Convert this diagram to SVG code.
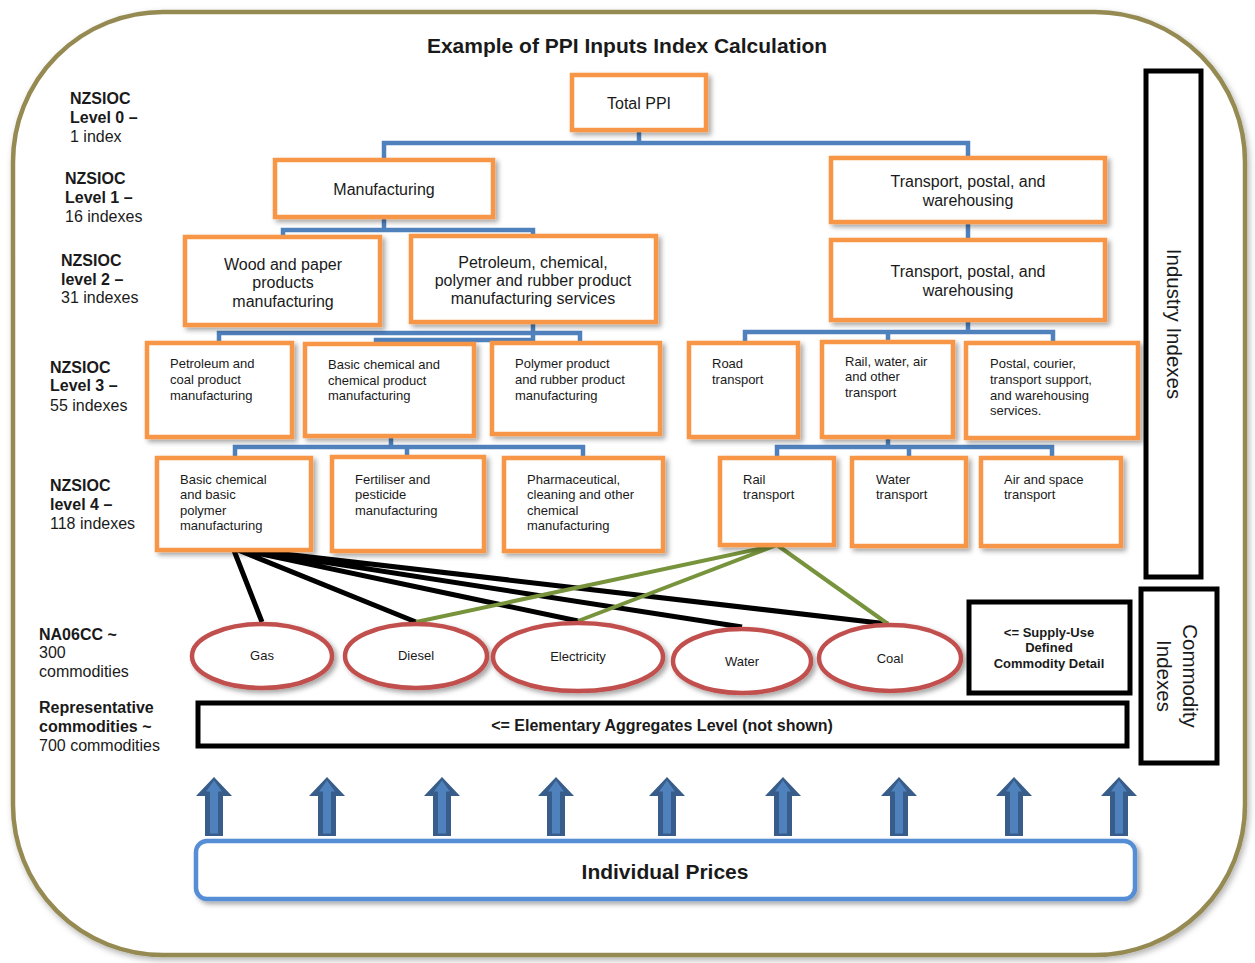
<svg xmlns="http://www.w3.org/2000/svg" width="1255" height="963" viewBox="0 0 1255 963">
<defs>
<filter id="sh" x="-10%" y="-10%" width="130%" height="130%">
<feDropShadow dx="3" dy="3" stdDeviation="2.5" flood-color="#000" flood-opacity="0.35"/>
</filter>
<filter id="shb" x="-5%" y="-5%" width="110%" height="110%">
<feDropShadow dx="2" dy="3" stdDeviation="3" flood-color="#000" flood-opacity="0.3"/>
</filter>
<symbol id="arrow" overflow="visible">
<path d="M0,-59 L18,-40 L9,-40 L9,0 L-9,0 L-9,-40 L-18,-40 Z" fill="#385d8a"/>
<path d="M0,-53 L5,-46 L2.5,-46 L2.5,-4 L-2.5,-4 L-2.5,-46 L-5,-46 Z" fill="#4f81bd" stroke="#4f81bd" stroke-width="3"/>
</symbol>
</defs>
<style>
text{font-family:"Liberation Sans",Arial,sans-serif;fill:#1a1a1a}
.b{font-weight:bold}
.lab{font-size:16px}
.box{fill:#fff;stroke:#f79646;stroke-width:4.5}
.bt{font-size:16px;text-anchor:middle}
.st{font-size:13px}
.conn{fill:none;stroke:#4f81bd;stroke-width:4.5;stroke-linejoin:miter}
.blk{stroke:#000;stroke-width:5;fill:none}
.grn{stroke:#77933c;stroke-width:4;fill:none}
.ell{fill:#fff;stroke:#c0504d;stroke-width:4.5}
.et{font-size:13px;text-anchor:middle}
.kb{fill:#fff;stroke:#000;stroke-width:5}
</style>

<g id="frame">
<rect x="13" y="12" width="1232" height="943" rx="150" ry="150" fill="#fff" stroke="#968a52" stroke-width="4.5" filter="url(#shb)"/>
</g>

<g id="title">
<text x="627" y="53" class="b" font-size="21" text-anchor="middle">Example of PPI Inputs Index Calculation</text>
</g>

<g id="level-labels" class="lab">
<text x="70" y="104" class="b">NZSIOC</text>
<text x="70" y="123" class="b">Level 0 –</text>
<text x="70" y="142">1 index</text>
<text x="65" y="184" class="b">NZSIOC</text>
<text x="65" y="203" class="b">Level 1 –</text>
<text x="65" y="222">16 indexes</text>
<text x="61" y="266" class="b">NZSIOC</text>
<text x="61" y="285" class="b">level 2 –</text>
<text x="61" y="303">31 indexes</text>
<text x="50" y="373" class="b">NZSIOC</text>
<text x="50" y="391" class="b">Level 3 –</text>
<text x="50" y="411">55 indexes</text>
<text x="50" y="491" class="b">NZSIOC</text>
<text x="50" y="510" class="b">level 4 –</text>
<text x="50" y="529">118 indexes</text>
<text x="39" y="640" class="b">NA06CC  ~</text>
<text x="39" y="658">300</text>
<text x="39" y="677">commodities</text>
<text x="39" y="713" class="b">Representative</text>
<text x="39" y="732" class="b">commodities ~</text>
<text x="39" y="751">700 commodities</text>
</g>

<g id="connectors">
<path class="conn" d="M639,130 V143 M384,160 V143 H968 V158"/>
<path class="conn" d="M384,217 V230 M283,237 V230 H533 V236"/>
<path class="conn" d="M968,222 V240"/>
<path class="conn" d="M219,343 V333 H580 V343 M533,322 V340 H376 V344"/>
<path class="conn" d="M391,436 V447 M235,458 V447 H583 V458 M407,447 V458"/>
<path class="conn" d="M968,320 V332 M745,343 V332 H1053 V343 M888,332 V342"/>
<path class="conn" d="M888,437 V447 M777,458 V447 H1052 V458 M909,447 V458"/>
<path class="blk" d="M233,548 L262,622 M233,548 L416,622 M233,548 L578,621 M233,548 L742,627 M233,548 L888,624"/>
<path class="grn" d="M777,545 L416,622 M777,545 L578,621 M777,545 L888,624"/>
</g>

<g id="n-total">
<rect class="box" x="572" y="75" width="134" height="55" filter="url(#sh)"/>
<text class="bt" x="639" y="109">Total PPI</text>
</g>
<g id="n-manufacturing">
<rect class="box" x="275" y="160" width="218" height="57" filter="url(#sh)"/>
<text class="bt" x="384" y="195">Manufacturing</text>
</g>
<g id="n-transport1">
<rect class="box" x="831" y="158" width="274" height="64" filter="url(#sh)"/>
<text class="bt" x="968" y="187">Transport, postal, and</text>
<text class="bt" x="968" y="206">warehousing</text>
</g>
<g id="n-wood">
<rect class="box" x="185" y="237" width="195" height="88" filter="url(#sh)"/>
<text class="bt" x="283" y="270">Wood and paper</text>
<text class="bt" x="283" y="288">products</text>
<text class="bt" x="283" y="307">manufacturing</text>
</g>
<g id="n-petrochem">
<rect class="box" x="411" y="236" width="245" height="86" filter="url(#sh)"/>
<text class="bt" x="533" y="268">Petroleum, chemical,</text>
<text class="bt" x="533" y="286">polymer and rubber product</text>
<text class="bt" x="533" y="304">manufacturing services</text>
</g>
<g id="n-transport2">
<rect class="box" x="831" y="240" width="274" height="80" filter="url(#sh)"/>
<text class="bt" x="968" y="277">Transport, postal, and</text>
<text class="bt" x="968" y="296">warehousing</text>
</g>

<g id="n-petcoal">
<rect class="box" x="147" y="343" width="145" height="94" filter="url(#sh)"/>
<text class="st" x="170" y="368">Petroleum and</text>
<text class="st" x="170" y="384">coal product</text>
<text class="st" x="170" y="400">manufacturing</text>
</g>
<g id="n-basicchem">
<rect class="box" x="305" y="344" width="169" height="92" filter="url(#sh)"/>
<text class="st" x="328" y="369">Basic chemical and</text>
<text class="st" x="328" y="385">chemical product</text>
<text class="st" x="328" y="400">manufacturing</text>
</g>
<g id="n-polymer">
<rect class="box" x="492" y="343" width="168" height="91" filter="url(#sh)"/>
<text class="st" x="515" y="368">Polymer product</text>
<text class="st" x="515" y="384">and rubber product</text>
<text class="st" x="515" y="400">manufacturing</text>
</g>
<g id="n-road">
<rect class="box" x="689" y="343" width="109" height="94" filter="url(#sh)"/>
<text class="st" x="712" y="368">Road</text>
<text class="st" x="712" y="384">transport</text>
</g>
<g id="n-railwater">
<rect class="box" x="822" y="342" width="131" height="95" filter="url(#sh)"/>
<text class="st" x="845" y="366">Rail, water, air</text>
<text class="st" x="845" y="381">and other</text>
<text class="st" x="845" y="397">transport</text>
</g>
<g id="n-postal">
<rect class="box" x="966" y="343" width="172" height="95" filter="url(#sh)"/>
<text class="st" x="990" y="368">Postal, courier,</text>
<text class="st" x="990" y="384">transport support,</text>
<text class="st" x="990" y="400">and warehousing</text>
<text class="st" x="990" y="415">services.</text>
</g>

<g id="n-basicpoly">
<rect class="box" x="157" y="458" width="154" height="92" filter="url(#sh)"/>
<text class="st" x="180" y="484">Basic chemical</text>
<text class="st" x="180" y="499">and basic</text>
<text class="st" x="180" y="515">polymer</text>
<text class="st" x="180" y="530">manufacturing</text>
</g>
<g id="n-fert">
<rect class="box" x="332" y="457" width="152" height="94" filter="url(#sh)"/>
<text class="st" x="355" y="484">Fertiliser and</text>
<text class="st" x="355" y="499">pesticide</text>
<text class="st" x="355" y="515">manufacturing</text>
</g>
<g id="n-pharma">
<rect class="box" x="504" y="458" width="159" height="93" filter="url(#sh)"/>
<text class="st" x="527" y="484">Pharmaceutical,</text>
<text class="st" x="527" y="499">cleaning and other</text>
<text class="st" x="527" y="515">chemical</text>
<text class="st" x="527" y="530">manufacturing</text>
</g>
<g id="n-rail">
<rect class="box" x="720" y="458" width="114" height="87" filter="url(#sh)"/>
<text class="st" x="743" y="484">Rail</text>
<text class="st" x="743" y="499">transport</text>
</g>
<g id="n-water">
<rect class="box" x="852" y="458" width="114" height="88" filter="url(#sh)"/>
<text class="st" x="876" y="484">Water</text>
<text class="st" x="876" y="499">transport</text>
</g>
<g id="n-air">
<rect class="box" x="981" y="458" width="140" height="88" filter="url(#sh)"/>
<text class="st" x="1004" y="484">Air and space</text>
<text class="st" x="1004" y="499">transport</text>
</g>

<g id="c-gas">
<ellipse class="ell" cx="262" cy="656" rx="70" ry="32" filter="url(#sh)"/>
<text class="et" x="262" y="660">Gas</text>
</g>
<g id="c-diesel">
<ellipse class="ell" cx="416" cy="656" rx="71" ry="32" filter="url(#sh)"/>
<text class="et" x="416" y="660">Diesel</text>
</g>
<g id="c-electricity">
<ellipse class="ell" cx="578" cy="657" rx="85" ry="34" filter="url(#sh)"/>
<text class="et" x="578" y="661">Electricity</text>
</g>
<g id="c-water">
<ellipse class="ell" cx="742" cy="661" rx="69" ry="32" filter="url(#sh)"/>
<text class="et" x="742" y="666">Water</text>
</g>
<g id="c-coal">
<ellipse class="ell" cx="890" cy="658" rx="71" ry="33" filter="url(#sh)"/>
<text class="et" x="890" y="663">Coal</text>
</g>

<g id="supply-use">
<rect class="kb" x="969" y="602" width="161" height="91"/>
<text x="1049" y="637" class="b" font-size="13" text-anchor="middle">&lt;= Supply-Use</text>
<text x="1049" y="652" class="b" font-size="13" text-anchor="middle">Defined</text>
<text x="1049" y="668" class="b" font-size="13" text-anchor="middle">Commodity Detail</text>
</g>

<g id="elementary">
<rect class="kb" x="198" y="703" width="929" height="43"/>
<text x="662" y="731" class="b" font-size="16" text-anchor="middle">&lt;= Elementary Aggregates Level (not shown)</text>
</g>

<g id="industry-indexes">
<rect class="kb" x="1146" y="71" width="55" height="506"/>
<text x="0" y="0" font-size="20.5" text-anchor="middle" transform="translate(1167,324) rotate(90)">Industry Indexes</text>
</g>

<g id="commodity-indexes">
<rect class="kb" x="1141" y="589" width="76" height="174"/>
<text x="0" y="0" font-size="20.5" text-anchor="middle" transform="translate(1183,676) rotate(90)">Commodity</text>
<text x="0" y="0" font-size="20.5" text-anchor="middle" transform="translate(1157,676) rotate(90)">Indexes</text>
</g>

<g id="arrows">
<use href="#arrow" x="214" y="836"/>
<use href="#arrow" x="327" y="836"/>
<use href="#arrow" x="442" y="836"/>
<use href="#arrow" x="556" y="836"/>
<use href="#arrow" x="667" y="836"/>
<use href="#arrow" x="783" y="836"/>
<use href="#arrow" x="899" y="836"/>
<use href="#arrow" x="1014" y="836"/>
<use href="#arrow" x="1119" y="836"/>
</g>

<g id="individual-prices">
<rect x="196" y="841" width="939" height="58" rx="11" fill="#fff" stroke="#558ed5" stroke-width="4.5" filter="url(#sh)"/>
<text x="665" y="879" class="b" font-size="21" text-anchor="middle">Individual Prices</text>
</g>
</svg>
